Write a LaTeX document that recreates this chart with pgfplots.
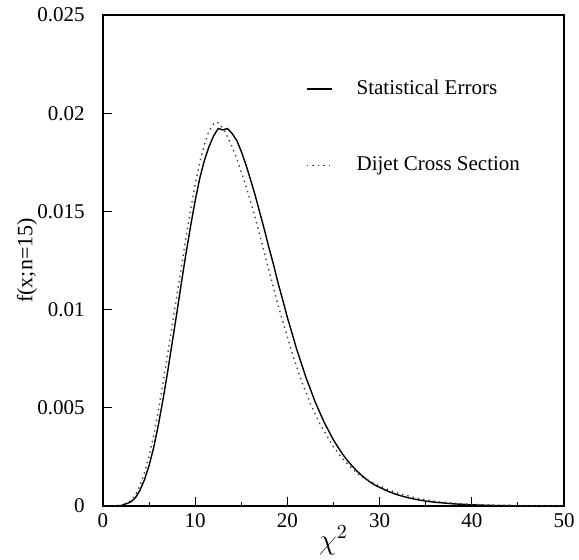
\documentclass[border=0pt]{standalone}
\usepackage{fontspec}
\setmainfont{Liberation Serif}
\usepackage{pgfplots}
\pgfplotsset{compat=1.18}
\begin{document}
\fontsize{10.5pt}{12.6pt}\selectfont
\begin{tikzpicture}
\useasboundingbox (-51.5pt,-27pt) rectangle (238pt,253pt);
\begin{axis}[
  scale only axis,
  width=230.5pt, height=245.5pt,
  xmin=0, xmax=50, ymin=0, ymax=0.025,
  xtick={0,10,20,30,40,50},
  minor xtick={5,15,25,35,45},
  ytick={0,0.005,0.01,0.015,0.02,0.025},
  tick pos=left,
  tick align=inside,
  major tick length=4.5pt,
  minor tick length=2.2pt,
  tick style={black, line width=0.5pt},
  axis line style={line width=0.6pt},
  scaled y ticks=false,
  yticklabel style={/pgf/number format/fixed, /pgf/number format/precision=3, xshift=-5.5pt},
  /pgf/number format/assume math mode=true,
  ticklabel style={font=\fontsize{10.5pt}{12pt}\selectfont},
  xlabel={$\chi^{2}$},
  xlabel style={font=\fontsize{14pt}{16pt}\selectfont, yshift=8pt},
  ylabel={f(x;n=15)},
  ylabel style={font=\fontsize{11pt}{13pt}\selectfont, yshift=-7pt},
  legend style={at={(0.44,0.872)}, anchor=north west, draw=none, fill=none,
    inner sep=0pt, column sep=11pt, row sep=27.5pt,
    nodes={inner sep=1pt}, font=\fontsize{10.5pt}{12pt}\selectfont},
  legend cell align=left,
  legend image code/.code={\draw[#1] (0pt,0pt) -- (12.5pt,0pt);},
]
\addplot[black, line width=0.7pt] coordinates {
(0,0) (1,4.5e-7) (2,2.5e-5) (3,2.0e-4) (3.5,4.1e-4) (4,7.9e-4) (4.5,1.34e-3)
(5,2.06e-3) (5.5,2.98e-3) (6,4.12e-3) (6.5,5.40e-3) (7,6.80e-3) (7.5,8.30e-3)
(8,9.80e-3) (8.5,11.35e-3) (9,12.85e-3) (9.5,14.25e-3) (10,15.55e-3) (10.5,16.70e-3)
(11,17.60e-3) (11.5,18.30e-3) (12,18.85e-3) (12.5,19.22e-3) (13,19.15e-3) (13.5,19.22e-3)
(14,18.97e-3) (14.5,18.62e-3) (15,18.05e-3) (15.5,17.38e-3) (16,16.62e-3) (16.5,15.83e-3)
(17,14.95e-3) (17.5,14.08e-3) (18,13.15e-3) (18.5,12.28e-3) (19,11.33e-3) (19.5,10.48e-3)
(20,9.59e-3) (20.5,8.80e-3) (21,7.99e-3) (21.5,7.28e-3) (22,6.56e-3) (22.5,5.94e-3)
(23,5.31e-3) (23.5,4.78e-3) (24,4.25e-3) (24.5,3.80e-3) (25,3.36e-3) (25.5,2.99e-3)
(26,2.63e-3) (26.5,2.32e-3) (27,2.05e-3) (27.5,1.80e-3) (28,1.58e-3) (28.5,1.38e-3)
(29,1.21e-3) (29.5,1.06e-3) (30,0.95e-3) (31,0.73e-3) (32,0.56e-3) (33,0.43e-3)
(34,0.33e-3) (35,0.25e-3) (36,0.19e-3) (38,0.11e-3) (40,0.06e-3) (42,0.03e-3)
(45,0.01e-3) (48,0.003e-3) (50,0.001e-3)
};
\addlegendentry{Statistical Errors}
\addplot[black!75, dotted, line width=0.7pt] coordinates {
(0,0) (1,6e-7) (2,3.3e-5) (3,2.7e-4) (3.5,5.5e-4) (4,1.02e-3) (4.5,1.70e-3)
(5,2.55e-3) (5.5,3.60e-3) (6,4.85e-3) (6.5,6.25e-3) (7,7.70e-3) (7.5,9.20e-3)
(8,10.70e-3) (8.5,12.15e-3) (9,13.70e-3) (9.5,15.10e-3) (10,16.40e-3) (10.5,17.50e-3)
(11,18.40e-3) (11.5,19.10e-3) (12,19.45e-3) (12.3,19.55e-3) (12.5,19.50e-3) (13,19.25e-3)
(13.5,18.80e-3) (14,18.30e-3) (14.5,17.70e-3) (15,17.00e-3) (15.5,16.30e-3) (16,15.50e-3)
(16.5,14.70e-3) (17,13.80e-3) (17.5,12.90e-3) (18,12.00e-3) (18.5,11.10e-3) (19,10.20e-3)
(19.5,9.40e-3) (20,8.60e-3) (20.5,7.80e-3) (21,7.10e-3) (21.5,6.40e-3) (22,5.80e-3)
(22.5,5.20e-3) (23,4.70e-3) (23.5,4.20e-3) (24,3.80e-3) (24.5,3.40e-3) (25,3.00e-3)
(25.5,2.70e-3) (26,2.40e-3) (26.5,2.15e-3) (27,1.92e-3) (27.5,1.70e-3) (28,1.50e-3)
(29,1.25e-3) (30,1.02e-3) (31,0.82e-3) (32,0.65e-3) (34,0.40e-3) (36,0.24e-3)
(38,0.14e-3) (40,0.08e-3) (42,0.05e-3) (45,0.02e-3) (48,0.006e-3) (50,0.003e-3)
};
\addlegendentry{Dijet Cross Section}
\end{axis}
\end{tikzpicture}
\end{document}
